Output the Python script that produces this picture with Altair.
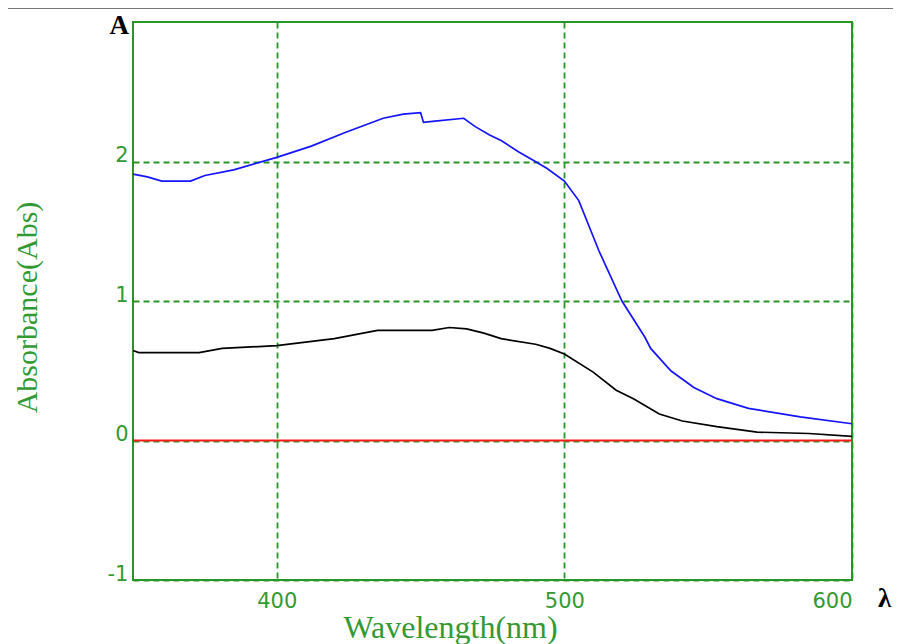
import altair as alt
import pandas as pd

# Sample spectrum (blue) and reference spectrum (black)
wl_blue = [350, 355, 360, 370, 375, 385, 400, 412, 424, 437, 444, 450, 451, 455, 465,
           469, 474, 478, 484, 489, 494, 500, 505, 512, 520, 528, 530, 537, 545, 553,
           564, 582, 600]
abs_blue = [1.91, 1.89, 1.86, 1.86, 1.90, 1.94, 2.03, 2.11, 2.21, 2.31, 2.34, 2.35, 2.28, 2.29, 2.31,
            2.25, 2.19, 2.15, 2.07, 2.01, 1.95, 1.86, 1.72, 1.36, 1.00, 0.74, 0.66, 0.50, 0.38, 0.30,
            0.23, 0.17, 0.12]

wl_black = [350, 352, 373, 381, 400, 420, 435, 454, 460, 466, 472, 478, 490, 495, 500,
            510, 518, 524, 533, 541, 553, 567, 585, 600]
abs_black = [0.645, 0.63, 0.63, 0.66, 0.68, 0.73, 0.79, 0.79, 0.81, 0.80, 0.77, 0.73, 0.69, 0.66, 0.62,
             0.49, 0.36, 0.30, 0.19, 0.14, 0.10, 0.06, 0.05, 0.03]

x_ticks = [400, 500, 600]
y_ticks = [-1, 0, 1, 2]

GREEN = "#269626"
TEXT_GREEN = "#339a33"

df_blue = pd.DataFrame({"wl": wl_blue, "A": abs_blue, "s": "sample"})
df_black = pd.DataFrame({"wl": wl_black, "A": abs_black, "s": "ref"})

xs = alt.Scale(domain=[350, 600], nice=False, zero=False)
ys = alt.Scale(domain=[-1, 3], nice=False, zero=False)

x_axis = alt.Axis(values=x_ticks, grid=True, gridColor=GREEN, gridDash=[6, 4], gridWidth=1.8,
                  domain=False, ticks=False, labelColor=TEXT_GREEN, labelFont="DejaVu Sans",
                  labelFontSize=21, labelPadding=10, labelExpr="'' + datum.value",
                  title="Wavelength(nm)",
                  titleFont="Liberation Serif", titleFontSize=32, titleFontWeight="normal",
                  titleColor=TEXT_GREEN, titleX=317, titleY=57, titleBaseline="alphabetic",
                  titleAlign="center")
y_axis = alt.Axis(values=y_ticks, grid=True, gridColor=GREEN, gridDash=[6, 4], gridWidth=1.8,
                  domain=False, ticks=False, labelColor=TEXT_GREEN, labelFont="DejaVu Sans",
                  labelFontSize=21, labelPadding=5, labelBaseline="alphabetic",
                  labelExpr="'' + datum.value",
                  title="Absorbance(Abs)", titleFont="Liberation Serif", titleFontSize=30,
                  titleFontWeight="normal", titleColor=TEXT_GREEN, titleAngle=270,
                  titleX=-106, titleY=285, titleAlign="center", titleBaseline="middle")

base_axes = alt.Chart(df_blue).mark_line(opacity=0).encode(
    x=alt.X("wl:Q", scale=xs, axis=x_axis),
    y=alt.Y("A:Q", scale=ys, axis=y_axis),
)

zero_line = alt.Chart(pd.DataFrame({"A": [0]})).mark_rule(color="#ff1a1a", strokeWidth=2).encode(
    y=alt.Y("A:Q", scale=ys)
)

blue_line = alt.Chart(df_blue).mark_line(color="#1414ff", strokeWidth=1.7).encode(
    x=alt.X("wl:Q", scale=xs), y=alt.Y("A:Q", scale=ys)
)
black_line = alt.Chart(df_black).mark_line(color="black", strokeWidth=1.7).encode(
    x=alt.X("wl:Q", scale=xs), y=alt.Y("A:Q", scale=ys)
)

label_a = alt.Chart(pd.DataFrame({"wl": [350], "A": [3], "t": ["A"]})).mark_text(
    font="Liberation Serif", fontSize=27, fontWeight="bold", color="black",
    align="right", baseline="alphabetic", dx=-4, dy=12
).encode(x=alt.X("wl:Q", scale=xs), y=alt.Y("A:Q", scale=ys), text="t:N")

label_l = alt.Chart(pd.DataFrame({"wl": [600], "A": [-1], "t": ["λ"]})).mark_text(
    font="Liberation Serif", fontSize=27, fontWeight="bold", color="black",
    align="left", baseline="alphabetic", dx=26, dy=27
).encode(x=alt.X("wl:Q", scale=xs), y=alt.Y("A:Q", scale=ys), text="t:N")

# page decoration above the chart (table border of the original screenshot)
top_border = alt.Chart(pd.DataFrame({"k": [0]})).mark_rule(color="#777777", strokeWidth=1).encode(
    x=alt.value(-125), x2=alt.value(760), y=alt.value(-13.5)
)

chart = alt.layer(
    base_axes, zero_line, black_line, blue_line, label_a, label_l, top_border
).properties(
    width=719, height=558,
    autosize=alt.AutoSizeParams(type="none"),
    padding={"left": 125, "top": 14, "right": 41, "bottom": 64},
).configure(
    background="white"
).configure_view(
    stroke=GREEN, strokeWidth=2
)

chart.save("out.html", embed_options={"renderer": "svg", "actions": False})
